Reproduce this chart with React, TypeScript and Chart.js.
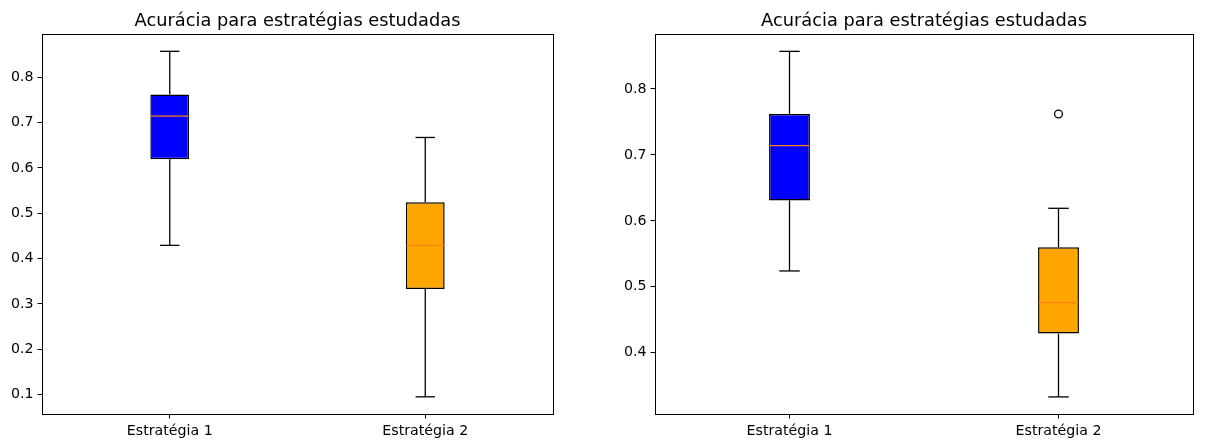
import React, { useEffect, useRef } from 'react';
import { Chart, registerables } from 'chart.js';

Chart.register(...registerables);

// ---------- data ----------
const categories = ['Estratégia 1', 'Estratégia 2'];
const chartTitle = 'Acurácia para estratégias estudadas';
const boxColors = ['#0000ff', '#ffa500'];
const medianColor = '#ff7f0e';

// left panel
const leftWhiskerLow = [0.429, 0.095];
const leftQ1 = [0.619, 0.333];
const leftMedian = [0.714, 0.429];
const leftQ3 = [0.762, 0.524];
const leftWhiskerHigh = [0.857, 0.667];
const leftOutliers: (number | null)[] = [null, null];
const leftTicks = [0.1, 0.2, 0.3, 0.4, 0.5, 0.6, 0.7, 0.8];
const leftYRange = [0.0571, 0.8952];

// right panel
const rightWhiskerLow = [0.524, 0.333];
const rightQ1 = [0.631, 0.429];
const rightMedian = [0.714, 0.476];
const rightQ3 = [0.762, 0.56];
const rightWhiskerHigh = [0.857, 0.619];
const rightOutliers: (number | null)[] = [null, 0.762];
const rightTicks = [0.4, 0.5, 0.6, 0.7, 0.8];
const rightYRange = [0.3071, 0.8833];

const FONT = "'DejaVu Sans', sans-serif";
const TICK_SIZE = 14.2;
const TITLE_SIZE = 17.8;

const boxPlugin = {
  id: 'boxplot',
  afterDatasetsDraw(chart: any, _args: any, opts: any) {
    const { ctx, chartArea } = chart;
    const y = chart.scales.y;
    const meta = chart.getDatasetMeta(0);
    ctx.save();
    opts.low.forEach((lo: number, i: number) => {
      const bar: any = meta.data[i];
      if (!bar) return;
      const cx = bar.x;
      const w = bar.width;
      const line = (x1: number, y1: number, x2: number, y2: number) => {
        ctx.beginPath();
        ctx.moveTo(x1, y1);
        ctx.lineTo(x2, y2);
        ctx.stroke();
      };
      ctx.strokeStyle = '#000';
      ctx.lineWidth = 1.3;
      line(cx, y.getPixelForValue(opts.q3[i]), cx, y.getPixelForValue(opts.high[i]));
      line(cx, y.getPixelForValue(opts.q1[i]), cx, y.getPixelForValue(lo));
      line(cx - w / 4, y.getPixelForValue(opts.high[i]), cx + w / 4, y.getPixelForValue(opts.high[i]));
      line(cx - w / 4, y.getPixelForValue(lo), cx + w / 4, y.getPixelForValue(lo));
      ctx.strokeStyle = medianColor;
      line(cx - w / 2 + 0.6, y.getPixelForValue(opts.median[i]), cx + w / 2 - 0.6, y.getPixelForValue(opts.median[i]));
    });
    // frame
    ctx.strokeStyle = '#000';
    ctx.lineWidth = 1;
    ctx.strokeRect(
      Math.round(chartArea.left) + 0.5,
      Math.round(chartArea.top) + 0.5,
      Math.round(chartArea.right - chartArea.left),
      Math.round(chartArea.bottom - chartArea.top)
    );
    // title
    ctx.fillStyle = '#000';
    ctx.font = `${TITLE_SIZE}px ${FONT}`;
    ctx.textAlign = 'center';
    ctx.textBaseline = 'alphabetic';
    ctx.fillText(opts.title, (chartArea.left + chartArea.right) / 2, chartArea.top - 8);
    ctx.restore();
  },
};

type Props = {
  low: number[];
  q1: number[];
  median: number[];
  q3: number[];
  high: number[];
  outliers: (number | null)[];
  ticks: number[];
  yRange: number[];
  left: number;
  width: number;
  axisWidth: number;
  padRight: number;
};

function BoxChart(p: Props) {
  const ref = useRef<HTMLCanvasElement>(null);
  useEffect(() => {
    if (!ref.current) return;
    const chart = new Chart(ref.current, {
      type: 'bar',
      data: {
        labels: categories,
        datasets: [
          {
            type: 'bar',
            data: p.q1.map((v, i) => [v, p.q3[i]]),
            backgroundColor: boxColors,
            borderColor: '#000',
            borderWidth: 1.5,
            borderSkipped: false,
            barPercentage: 0.152,
            categoryPercentage: 1,
          } as any,
          {
            type: 'line',
            data: p.outliers,
            showLine: false,
            pointRadius: 3.9,
            pointBackgroundColor: 'rgba(0,0,0,0)',
            pointBorderColor: '#000',
            pointBorderWidth: 1.3,
          } as any,
        ],
      },
      options: {
        responsive: false,
        animation: false,
        devicePixelRatio: 1,
        layout: { padding: { left: 0, right: p.padRight, top: 34, bottom: 0 } },
        plugins: {
          legend: { display: false },
          tooltip: { enabled: false },
          title: { display: false },
          boxplot: {
            low: p.low,
            q1: p.q1,
            median: p.median,
            q3: p.q3,
            high: p.high,
            title: chartTitle,
          },
        } as any,
        scales: {
          x: {
            type: 'category',
            offset: true,
            grid: {
              offset: false,
              drawOnChartArea: false,
              drawTicks: true,
              tickLength: 4.5,
              color: '#000',
              lineWidth: 1,
            },
            border: { display: false },
            ticks: { color: '#000', font: { family: FONT, size: TICK_SIZE }, padding: 4, maxRotation: 0 },
            afterFit: (s: any) => {
              s.height = 27;
            },
          },
          y: {
            type: 'linear',
            min: p.yRange[0],
            max: p.yRange[1],
            grid: {
              drawOnChartArea: false,
              drawTicks: true,
              tickLength: 4.5,
              color: '#000',
              lineWidth: 1,
            },
            border: { display: false },
            ticks: {
              color: '#000',
              font: { family: FONT, size: TICK_SIZE },
              padding: 4,
              callback: (v: any) => Number(v).toFixed(1),
            },
            afterBuildTicks: (s: any) => {
              s.ticks = p.ticks.map((v) => ({ value: v }));
            },
            afterFit: (s: any) => {
              s.width = p.axisWidth;
            },
          },
        },
      } as any,
      plugins: [boxPlugin],
    });
    return () => chart.destroy();
  }, []);
  return (
    <canvas
      ref={ref}
      width={p.width}
      height={441}
      style={{ position: 'absolute', left: p.left, top: 0, width: p.width, height: 441, display: 'block' }}
    />
  );
}

export default function App() {
  return (
    <div style={{ position: 'absolute', left: 0, top: 0, width: 1219, height: 441, background: '#fff', overflow: 'hidden' }}>
      <BoxChart
        low={leftWhiskerLow}
        q1={leftQ1}
        median={leftMedian}
        q3={leftQ3}
        high={leftWhiskerHigh}
        outliers={leftOutliers}
        ticks={leftTicks}
        yRange={leftYRange}
        left={0}
        width={609}
        axisWidth={42}
        padRight={56}
      />
      <BoxChart
        low={rightWhiskerLow}
        q1={rightQ1}
        median={rightMedian}
        q3={rightQ3}
        high={rightWhiskerHigh}
        outliers={rightOutliers}
        ticks={rightTicks}
        yRange={rightYRange}
        left={609}
        width={610}
        axisWidth={46}
        padRight={26}
      />
    </div>
  );
}
